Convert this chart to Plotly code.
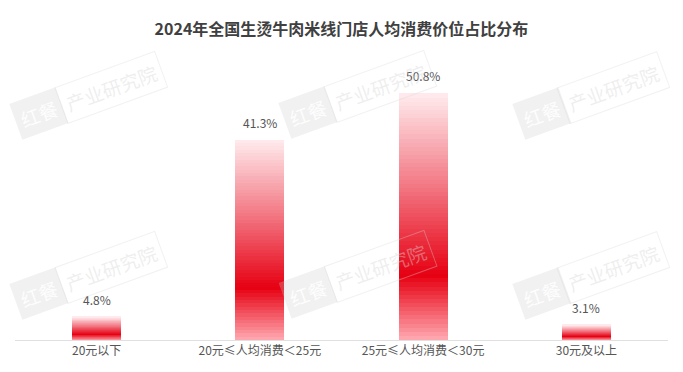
import plotly.graph_objects as go

categories = ["20元以下", "20元≤人均消费＜25元", "25元≤人均消费＜30元", "30元及以上"]
values = [4.8, 41.3, 50.8, 3.1]
labels = ["4.8%", "41.3%", "50.8%", "3.1%"]
title = "2024年全国生烫牛肉米线门店人均消费价位占比分布"

# gradient stops (fraction from top, rgb)
stops = [(0.0, (255, 236, 238)), (0.38, (242, 118, 130)), (0.74, (230, 0, 18)), (1.0, (255, 170, 178))]

def color_at(f):
    for (f0, c0), (f1, c1) in zip(stops[:-1], stops[1:]):
        if f0 <= f <= f1:
            t = (f - f0) / (f1 - f0)
            return "rgb(%d,%d,%d)" % tuple(round(a + (b - a) * t) for a, b in zip(c0, c1))
    return "rgb(%d,%d,%d)" % stops[-1][1]

N = 60
fig = go.Figure()
for i in range(N):
    frac_top = 1 - (i + 0.5) / N
    fig.add_trace(go.Bar(
        x=categories, y=[v / N for v in values],
        marker=dict(color=color_at(frac_top), line=dict(width=0)),
        width=0.30, showlegend=False, hoverinfo="skip"))

for c, v, t in zip(categories, values, labels):
    fig.add_annotation(x=c, y=v, text=t, showarrow=False, yanchor="bottom", yshift=7,
                       font=dict(size=12, color="#555555"))

# watermarks
wm = [(0.112, 0.914), (0.524, 0.918), (0.882, 0.914), (0.112, 0.240), (0.524, 0.247), (0.882, 0.240)]
for x, y in wm:
    fig.add_annotation(xref="paper", yref="paper", x=x, y=y, xanchor="center", yanchor="middle",
                       text="红餐", showarrow=False, textangle=-20, borderpad=5,
                       bgcolor="rgba(205,205,205,0.28)", xshift=-49, yshift=-18,
                       font=dict(size=19, color="rgba(255,255,255,0.9)", family="Noto Sans CJK SC"))
    fig.add_annotation(xref="paper", yref="paper", x=x, y=y, xanchor="center", yanchor="middle",
                       text="产业研究院", showarrow=False, textangle=-20, borderpad=5,
                       bordercolor="rgba(215,215,215,0.35)", borderwidth=1,
                       xshift=23, yshift=8,
                       font=dict(size=19, color="rgba(215,215,215,0.42)", family="Noto Sans CJK SC"))

fig.update_layout(
    width=683, height=372, barmode="stack", bargap=0,
    margin=dict(l=15, r=15, t=73, b=32),
    paper_bgcolor="white", plot_bgcolor="white",
    title=dict(text="<b>" + title + "</b>", x=0.5, xanchor="center", y=0.92, yanchor="middle",
               font=dict(size=16, color="#404040", family="Noto Sans CJK SC")),
    font=dict(family="Noto Sans CJK SC", color="#555555"),
    xaxis=dict(showline=True, linecolor="#e0e0e0", linewidth=1, ticks="",
               tickfont=dict(size=12, color="#555555"), showgrid=False),
    yaxis=dict(range=[0, 55], visible=False, showgrid=False),
)
fig.write_html("out.html", config={"displayModeBar": False},
               post_script="document.body.style.margin='0';")
